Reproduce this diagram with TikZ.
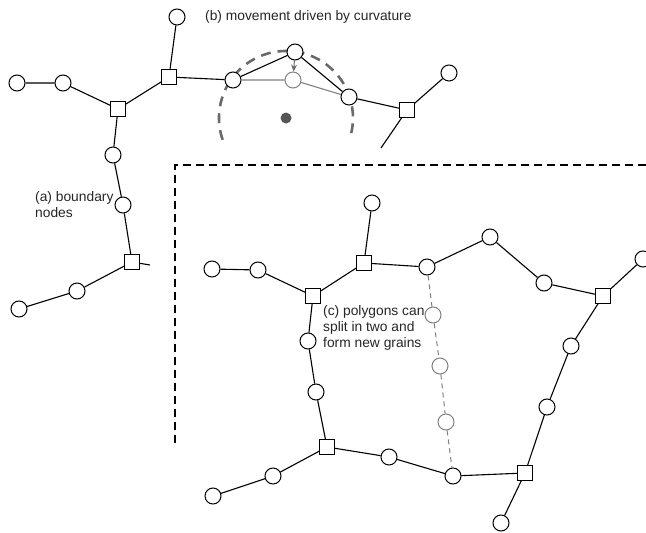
\documentclass[tikz,border=0pt]{standalone}
\usepackage{fontspec}
\setmainfont{Liberation Sans}
\usetikzlibrary{arrows.meta}
\definecolor{lgray}{HTML}{808080}
\definecolor{dgray}{HTML}{555555}
\definecolor{agray}{HTML}{6A6A6A}
\begin{document}
\begin{tikzpicture}[x=1pt,y=-1pt,
  bn/.style={circle,draw=black,fill=white,minimum size=16pt,inner sep=0pt,line width=1pt},
  gn/.style={bn,draw=lgray},
  tj/.style={rectangle,draw=black,fill=white,minimum size=14.5pt,inner sep=0pt,line width=1pt},
  edge/.style={line width=1.1pt,black},
  gedge/.style={line width=1.1pt,lgray},
  lab/.style={anchor=west,align=left,font=\fontsize{13.8}{16}\selectfont,text=black!85,inner sep=0pt}
]
\useasboundingbox (0,0) rectangle (646,533);
\begin{scope}
\clip (0,0) rectangle (646,533);
% dashed curvature circle (drawn first, below nodes)
\coordinate (cc) at (286,118);
\draw[line width=2.6pt,agray,dash pattern=on 10pt off 7pt] (cc) ++(161:67) arc[start angle=161,end angle=379,radius=67];
\fill[dgray] (cc) circle (5.5);

% ---------- top part ----------
\node[bn] (a1) at (17,83) {};
\node[bn] (a2) at (63,83) {};
\node[tj] (s1) at (118,109) {};
\node[tj] (s2) at (169,77) {};
\node[bn] (a3) at (177,17) {};
\node[bn] (a4) at (113,155) {};
\node[bn] (a5) at (123,205) {};
\node[tj] (s3) at (132,262) {};
\coordinate (e1) at (150,265);
\node[bn] (a6) at (77,291) {};
\node[bn] (a7) at (19,309) {};
\node[bn] (b1) at (233,80) {};
\node[bn] (b2) at (295,52) {};
\node[gn] (g1) at (293,80) {};
\node[bn] (b3) at (349,97) {};
\node[tj] (s4) at (407,110) {};
\node[bn] (b4) at (449,73) {};
\coordinate (e2) at (381,148);

\draw[edge] (a1) -- (a2) -- (s1) -- (s2) -- (a3);
\draw[edge] (s1) -- (a4) -- (a5) -- (s3) -- (e1);
\draw[edge] (s3) -- (a6) -- (a7);
\draw[edge] (s2) -- (b1) -- (b2) -- (b3) -- (s4) -- (b4);
\draw[edge] (s4) -- (e2);
\draw[gedge] (b1) -- (g1) -- (b3);
\draw[line width=1pt,agray,-{Stealth[length=7pt,width=6pt]}] (b2) -- (g1);

\node[lab] (tb) at (205,17) {(b) movement driven by curvature};
\node[lab] (ta) at (35,205) {(a) boundary\\nodes};

% dashed separator
\coordinate (d1) at (646,165);
\coordinate (d2) at (175,165);
\coordinate (d3) at (175,447);
\draw[line width=1.1pt,dash pattern=on 8pt off 5pt] (d1) -- (d2) -- (d3);

% ---------- lower part ----------
\node[bn] (c1) at (212,269) {};
\node[bn] (c2) at (258,270) {};
\node[tj] (t1) at (313,296) {};
\node[tj] (t2) at (364,263) {};
\node[bn] (c3) at (372,203) {};
\node[bn] (c4) at (427,267) {};
\node[bn] (c5) at (490,237) {};
\node[bn] (c6) at (544,283) {};
\node[tj] (t3) at (603,296) {};
\node[bn] (c7) at (643,259) {};
\node[bn] (c8) at (308,341) {};
\node[bn] (c9) at (316,392) {};
\node[tj] (t4) at (327,447) {};
\node[bn] (c10) at (389,457) {};
\node[bn] (c11) at (453,476) {};
\node[tj] (t5) at (525,473) {};
\node[bn] (c12) at (501,523) {};
\node[bn] (c13) at (571,346) {};
\node[bn] (c14) at (547,407) {};
\node[bn] (c15) at (273,476) {};
\node[bn] (c16) at (213,496) {};
\node[gn] (h1) at (433,315) {};
\node[gn] (h2) at (440,366) {};
\node[gn] (h3) at (446,422) {};

\draw[edge] (c1) -- (c2) -- (t1) -- (t2) -- (c3);
\draw[edge] (t2) -- (c4) -- (c5) -- (c6) -- (t3) -- (c7);
\draw[edge] (t1) -- (c8) -- (c9) -- (t4) -- (c10) -- (c11) -- (t5);
\draw[edge] (t4) -- (c15) -- (c16);
\draw[edge] (t3) -- (c13) -- (c14) -- (t5) -- (c12);
\draw[line width=1pt,lgray,dash pattern=on 5pt off 4pt] (c4) -- (h1) -- (h2) -- (h3) -- (c11);

\node[lab] (tc) at (323,328) {(c) polygons can\\split in two and\\form new grains};
\end{scope}
\end{tikzpicture}
\end{document}
